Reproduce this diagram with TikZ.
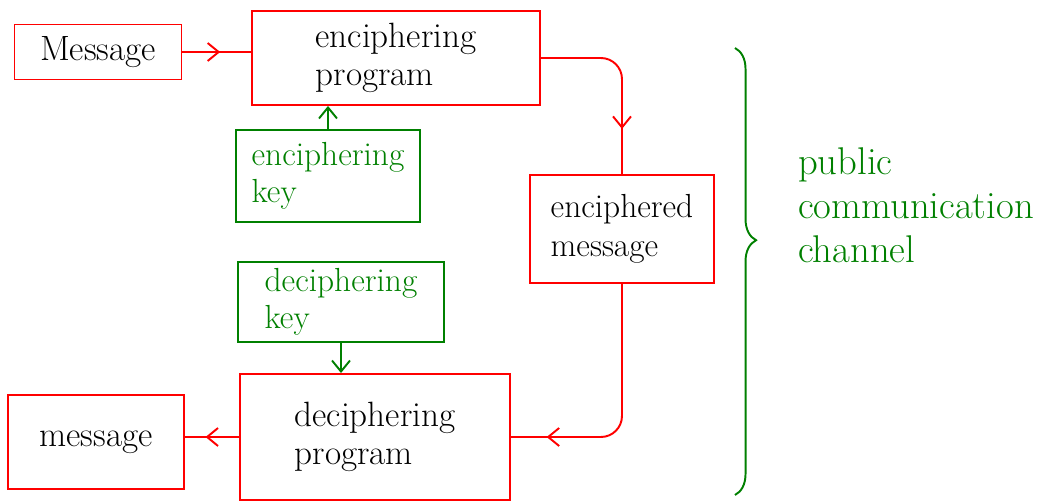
\documentclass[tikz,border=0pt]{standalone}
\usepackage{tikz}
\usetikzlibrary{
  arrows.meta,              % 开口箭头样式
  decorations.pathreplacing,% 大括号装饰
  decorations.markings      % 线段中部的箭头
}

\tikzset{
  redbox/.style={draw=red, line width=1.1pt, inner sep=0pt, align=left,
    font=\fontsize{20}{22}\selectfont},
  greenbox/.style={draw=green!50!black, text=green!50!black, line width=1.1pt,
    inner sep=0pt, align=left, font=\fontsize{19}{21}\selectfont},
  redline/.style={draw=red, line width=1.1pt},
  greenline/.style={draw=green!50!black, line width=1.1pt},
  midtip/.style={postaction={decorate}, decoration={markings,
    mark=at position #1 with {\arrow{Straight Barb[length=2.2mm,width=3.6mm]}}}},
}

\begin{document}
\begin{tikzpicture}[x=0.02cm, y=-0.02cm, >={Straight Barb[length=2.2mm,width=3.6mm]}]
    \useasboundingbox (0,0) rectangle (1063,504);

    % 加密一侧
    \node[redbox, minimum width=3.34cm, minimum height=1.1cm] (msgin) at (98,52) {Message};
    \node[redbox, minimum width=5.76cm, minimum height=1.88cm] (encprog) at (396,58) {enciphering\\program};
    \node[greenbox, minimum width=3.68cm, minimum height=1.84cm] (enckey) at (328,176) {enciphering\\key};

    % 公共信道上的密文
    \node[redbox, minimum width=3.68cm, minimum height=2.16cm,
      font=\fontsize{19}{22}\selectfont] (encmsg) at (622,229) {enciphered\\message};

    % 解密一侧
    \node[greenbox, minimum width=4.12cm, minimum height=1.6cm] (deckey) at (341,302) {deciphering\\key};
    \node[redbox, minimum width=5.4cm, minimum height=2.52cm] (decprog) at (375,437) {deciphering\\program};
    \node[redbox, minimum width=3.52cm, minimum height=1.88cm] (msgout) at (96,442) {message};

    % 连线
    \draw[redline, midtip=0.55] (msgin.east) -- (msgin.east -| encprog.west);
    \draw[greenline, ->] (enckey.north) -- (enckey.north |- encprog.south);
    \draw[redline, rounded corners=12pt, midtip=0.76] (encprog.east) -| (encmsg.north);
    \draw[redline, rounded corners=12pt, midtip=0.86] (encmsg.south) |- (decprog.east);
    \draw[greenline, ->] (deckey.south) -- (deckey.south |- decprog.north);
    \draw[redline, midtip=0.62] (decprog.west) -- (decprog.west -| msgout.east);

    % 大括号与标注
    \coordinate (btop) at (735,48);
    \coordinate (bbot) at (735,495);
    \draw[greenline, decorate, decoration={brace, amplitude=12pt, aspect=0.43}] (btop) -- (bbot);
    \node[anchor=west, align=left, text=green!50!black,
      font=\fontsize{22}{25}\selectfont] (channel) at (792,205) {public\\communication\\channel};
  \end{tikzpicture}
\end{document}
